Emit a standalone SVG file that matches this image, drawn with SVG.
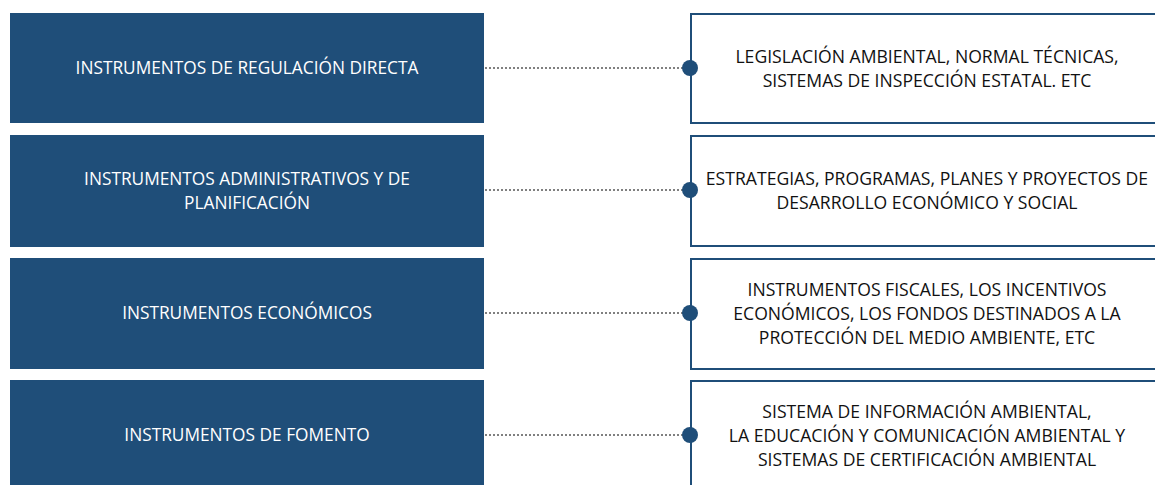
<svg xmlns="http://www.w3.org/2000/svg" width="1155" height="485" viewBox="0 0 1155 485">
<style>
.lbox{fill:#1F4E79;}
.rbox{fill:#FFFFFF;stroke:#1F4E79;stroke-width:2;}
.lt{fill:#FFFFFF;font-family:"Open Sans","Noto Sans",sans-serif;font-size:17.3px;text-anchor:middle;}
.rt{fill:#111111;font-family:"Open Sans","Noto Sans",sans-serif;font-size:17.6px;text-anchor:middle;}
.conn{stroke:#808080;stroke-width:2;stroke-dasharray:2 2;fill:none;}
.dot{fill:#1F4E79;}
</style>
<rect width="1155" height="485" fill="#FFFFFF"/>
<g id="left1"><rect class="lbox" x="10" y="13" width="474" height="110"/><text class="lt" x="247" y="74">INSTRUMENTOS DE REGULACIÓN DIRECTA</text></g>
<g id="left2"><rect class="lbox" x="10" y="135" width="474" height="112"/><text class="lt" x="247" y="185">INSTRUMENTOS ADMINISTRATIVOS Y DE</text><text class="lt" x="247" y="209">PLANIFICACIÓN</text></g>
<g id="left3"><rect class="lbox" x="10" y="258" width="474" height="111"/><text class="lt" x="247" y="319">INSTRUMENTOS ECONÓMICOS</text></g>
<g id="left4"><rect class="lbox" x="10" y="380" width="474" height="110"/><text class="lt" x="247" y="441">INSTRUMENTOS DE FOMENTO</text></g>
<g id="right1"><rect class="rbox" x="691" y="14" width="470" height="109"/><text class="rt" x="927" y="63">LEGISLACIÓN AMBIENTAL, NORMAL TÉCNICAS,</text><text class="rt" x="927" y="87">SISTEMAS DE INSPECCIÓN ESTATAL. ETC</text></g>
<g id="right2"><rect class="rbox" x="691" y="136" width="470" height="110"/><text class="rt" x="927" y="185">ESTRATEGIAS, PROGRAMAS, PLANES Y PROYECTOS DE</text><text class="rt" x="927" y="209">DESARROLLO ECONÓMICO Y SOCIAL</text></g>
<g id="right3"><rect class="rbox" x="691" y="259" width="470" height="110"/><text class="rt" x="927" y="296">INSTRUMENTOS FISCALES, LOS INCENTIVOS</text><text class="rt" x="927" y="320">ECONÓMICOS, LOS FONDOS DESTINADOS A LA</text><text class="rt" x="927" y="344">PROTECCIÓN DEL MEDIO AMBIENTE, ETC</text></g>
<g id="right4"><rect class="rbox" x="691" y="381" width="470" height="110"/><text class="rt" x="927" y="418">SISTEMA DE INFORMACIÓN AMBIENTAL,</text><text class="rt" x="927" y="442">LA EDUCACIÓN Y COMUNICACIÓN AMBIENTAL Y</text><text class="rt" x="927" y="466">SISTEMAS DE CERTIFICACIÓN AMBIENTAL</text></g>
<g id="connectors">
<line class="conn" x1="485" y1="68" x2="690" y2="68"/>
<line class="conn" x1="485" y1="190" x2="690" y2="190"/>
<line class="conn" x1="485" y1="313" x2="690" y2="313"/>
<line class="conn" x1="485" y1="435" x2="690" y2="435"/>
<circle class="dot" cx="690" cy="68" r="8"/>
<circle class="dot" cx="690" cy="190" r="8"/>
<circle class="dot" cx="690" cy="313" r="8"/>
<circle class="dot" cx="690" cy="435" r="8"/>
</g>
</svg>
